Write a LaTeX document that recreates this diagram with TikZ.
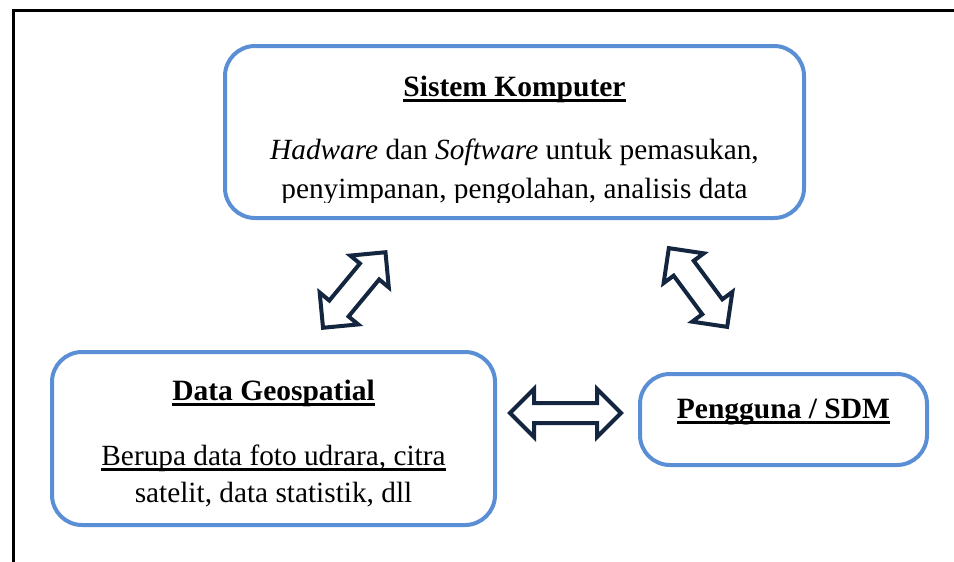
\documentclass[tikz,border=0pt]{standalone}
\usepackage{fontspec}
\setmainfont{Liberation Serif}
\usetikzlibrary{shapes.arrows, positioning, calc}
\definecolor{boxblue}{HTML}{5B8FD5}
\definecolor{arrownavy}{HTML}{14263F}
\newsavebox{\garisbox}
\newcommand{\garis}[1]{\sbox{\garisbox}{#1}\rlap{\rule[-5.5pt]{\wd\garisbox}{2.6pt}}\usebox{\garisbox}}

\begin{document}
\begin{tikzpicture}[x=1pt, y=-1pt,
    kotak/.style={draw=boxblue, line width=4pt, rounded corners=30pt, inner sep=0pt},
    judul/.style={anchor=base, inner sep=0pt, font=\fontsize{29.5}{38}\selectfont\bfseries},
    isi/.style={anchor=base, inner sep=0pt, font=\fontsize{29.3}{38}\selectfont},
    panah/.style={double arrow, draw=arrownavy, fill=white, line width=4pt, inner xsep=0pt, sloped}]
    \useasboundingbox (0,0) rectangle (954,562);

    % Frame
    \draw[line width=3pt] (13,562) |- (954,10);

    % Boxes
    \node[kotak, minimum width=579pt, minimum height=172pt] (komp) at (514.5,132) {};
    \node[kotak, minimum width=443pt, minimum height=173pt] (geo) at (273.5,438.5) {};
    \node[kotak, minimum width=287pt, minimum height=91pt] (sdm) at (783.5,419.5) {};

    % Texts
    \node[judul] (kompJudul) at ($(komp.north)+(0,52.5)$) {\garis{Sistem Komputer}};
    \node[isi] (kompIsiA) at ($(komp.north)+(0,115.5)$) {\textit{Hadware} dan \textit{Software} untuk pemasukan,};
    \begin{scope}
        \clip ($(komp.south west)+(0,-18)$) rectangle (komp.north east);
        \node[isi] (kompIsiB) at ($(komp.north)+(0,154)$) {penyimpanan, pengolahan, analisis data};
    \end{scope}

    \node[judul] (geoJudul) at ($(geo.north)+(0,50)$) {\garis{Data Geospatial}};
    \node[isi] (geoIsiA) at ($(geo.north)+(0,115)$) {\garis{Berupa data foto udrara, citra}};
    \node[isi] (geoIsiB) at ($(geo.north)+(0,152)$) {satelit, data statistik, dll};

    \node[judul] (sdmJudul) at ($(sdm.north)+(0,46)$) {\garis{Pengguna / SDM}};

    % Arrows
    \coordinate (a1) at ($(komp.south)+(-128,31)$);
    \coordinate (b1) at ($(geo.north)+(48.5,-21)$);
    \path (b1) -- node[panah, minimum height=98pt, inner ysep=10.5pt,
        double arrow head extend=12.5pt] (panahKiri) {} (a1);

    \coordinate (a2) at ($(komp.south)+(153.5,27)$);
    \coordinate (b2) at ($(sdm.north)+(-55.5,-44)$);
    \path (a2) -- node[panah, minimum height=98pt, inner ysep=10.5pt,
        double arrow head extend=12.5pt] (panahKanan) {} (b2);

    \coordinate (a3) at ($(geo.east)+(13,-25.5)$);
    \coordinate (b3) at ($(sdm.west)+(-17,-6.5)$);
    \path (a3) -- node[panah, minimum height=111pt, inner ysep=8pt,
        double arrow head extend=14pt] (panahBawah) {} (b3);
\end{tikzpicture}
\end{document}
